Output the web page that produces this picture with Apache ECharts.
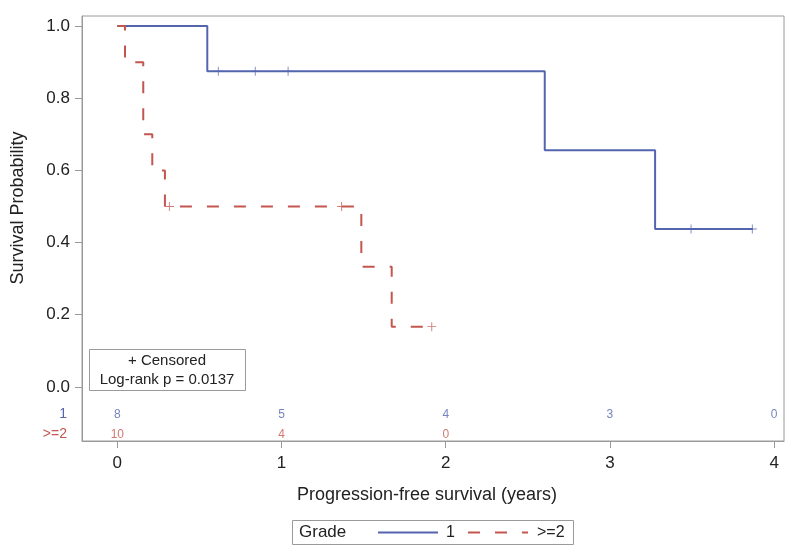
<!DOCTYPE html>
<html><head><meta charset="utf-8">
<script src="https://cdn.jsdelivr.net/npm/echarts@6/dist/echarts.min.js"></script>
<style>html,body{margin:0;padding:0;background:#fff}#c{width:800px;height:556px}</style>
</head><body><div id="c"></div>
<script>
// ---- data ----
var grade1Times = [0, 0.548, 2.603, 3.275, 3.87];
var grade1Surv  = [1.0, 0.875, 0.656, 0.4375, 0.4375];
var grade2Times = [0, 0.047, 0.158, 0.213, 0.29, 1.486, 1.671, 1.915];
var grade2Surv  = [1.0, 0.9, 0.7, 0.6, 0.5, 0.333, 0.167, 0.167];
var grade1CensTimes = [0.615, 0.84, 1.04, 3.494, 3.867];
var grade1CensSurv  = [0.875, 0.875, 0.875, 0.4375, 0.4375];
var grade2CensTimes = [0.317, 1.366, 1.915];
var grade2CensSurv  = [0.5, 0.5, 0.167];
var riskTimes1 = [0, 1, 2, 3, 4];
var riskCounts1 = [8, 5, 4, 3, 0];
var riskTimes2 = [0, 1, 2];
var riskCounts2 = [10, 4, 0];
var xTicks = [0, 1, 2, 3, 4];
var yTicks = [0, 0.2, 0.4, 0.6, 0.8, 1.0];
var groupNames = ['1', '>=2'];

var BLUE = '#5465ae', RED = '#c4564f', AX = '#9a9a9a', TXT = '#222';
var FONT = '"Liberation Sans", Arial, sans-serif';
var ROW1_Y = -0.078, ROW2_Y = -0.133;
var DASH = [12, 15];
function zip(a, b) { return a.map(function (v, i) { return [v, b[i]]; }); }
var plusPath = 'path://M4.5,0 H5.5 V4.5 H10 V5.5 H5.5 V10 H4.5 V5.5 H0 V4.5 H4.5 Z';

function txt(x, y, s, size, color, align) {
  return {type: 'text', x: x, y: y,
    style: {text: s, font: size + 'px ' + FONT, fill: color, textAlign: align || 'center', textVerticalAlign: 'middle'}};
}

var chart = echarts.init(document.getElementById('c'), null, {renderer: 'canvas'});
var yTitle = txt(0, 0, 'Survival Probability', 18, TXT);
yTitle.x = 18; yTitle.y = 208; yTitle.rotation = Math.PI / 2;

chart.setOption({
  animation: false,
  textStyle: {fontFamily: FONT},
  grid: {left: 82, top: 16, right: 16, bottom: 115, show: true, borderColor: AX, borderWidth: 1, backgroundColor: 'transparent'},
  xAxis: {
    type: 'value', min: -0.215, max: 4.06,
    splitLine: {show: false},
    axisLine: {show: true, onZero: false, lineStyle: {color: AX}},
    axisTick: {show: true, length: 7, lineStyle: {color: AX}, customValues: xTicks},
    axisLabel: {show: true, color: TXT, fontSize: 17, margin: 14, customValues: xTicks, fontFamily: FONT}
  },
  yAxis: {
    type: 'value', min: -0.15, max: 1.028,
    splitLine: {show: false},
    axisLine: {show: true, onZero: false, lineStyle: {color: AX}},
    axisTick: {show: true, length: 7, lineStyle: {color: AX}, customValues: yTicks},
    axisLabel: {show: true, color: TXT, fontSize: 17, margin: 12, customValues: yTicks, fontFamily: FONT,
      formatter: function (v) { return v.toFixed(1); }}
  },
  graphic: [
    yTitle,
    txt(427, 495, 'Progression-free survival (years)', 18, TXT),
    {type: 'rect', shape: {x: 89.5, y: 349.5, width: 156, height: 41}, style: {fill: '#fff', stroke: AX, lineWidth: 1}, z: 10},
    Object.assign(txt(167, 361, '+ Censored', 15, TXT), {z: 11}),
    Object.assign(txt(167, 380, 'Log-rank p = 0.0137', 15, TXT), {z: 11}),
    txt(67, 414, groupNames[0], 14, BLUE, 'right'),
    txt(67, 434, groupNames[1], 14, RED, 'right'),
    {type: 'rect', shape: {x: 292.5, y: 520.5, width: 281, height: 24}, style: {fill: 'none', stroke: AX, lineWidth: 1}},
    txt(299, 532.5, 'Grade', 17, TXT, 'left'),
    {type: 'line', shape: {x1: 378, y1: 532.5, x2: 438, y2: 532.5}, style: {stroke: BLUE, lineWidth: 2}},
    txt(446, 532.5, groupNames[0], 16, TXT, 'left'),
    {type: 'line', shape: {x1: 468, y1: 532.5, x2: 528, y2: 532.5}, style: {stroke: RED, lineWidth: 2, lineDash: DASH}},
    txt(537, 532.5, groupNames[1], 16, TXT, 'left')
  ],
  series: [
    {name: groupNames[0], type: 'line', step: 'end', symbol: 'none', data: zip(grade1Times, grade1Surv),
      lineStyle: {color: BLUE, width: 2}, itemStyle: {color: BLUE}},
    {name: groupNames[1], type: 'line', step: 'end', symbol: 'none', data: zip(grade2Times, grade2Surv),
      lineStyle: {color: RED, width: 2, type: DASH}, itemStyle: {color: RED}},
    {type: 'scatter', symbol: plusPath, symbolSize: 9, data: zip(grade1CensTimes, grade1CensSurv),
      itemStyle: {color: BLUE}, z: 3},
    {type: 'scatter', symbol: plusPath, symbolSize: 9, data: zip(grade2CensTimes, grade2CensSurv),
      itemStyle: {color: RED}, z: 3},
    {type: 'scatter', symbolSize: 1, itemStyle: {color: 'rgba(0,0,0,0)'},
      data: riskTimes1.map(function (t, i) { return [t, ROW1_Y, riskCounts1[i]]; }),
      label: {show: true, position: 'inside', color: BLUE, fontSize: 12, fontFamily: FONT,
        formatter: function (p) { return String(p.value[2]); }}},
    {type: 'scatter', symbolSize: 1, itemStyle: {color: 'rgba(0,0,0,0)'},
      data: riskTimes2.map(function (t, i) { return [t, ROW2_Y, riskCounts2[i]]; }),
      label: {show: true, position: 'inside', color: RED, fontSize: 12, fontFamily: FONT,
        formatter: function (p) { return String(p.value[2]); }}}
  ]
});
</script>
</body></html>
